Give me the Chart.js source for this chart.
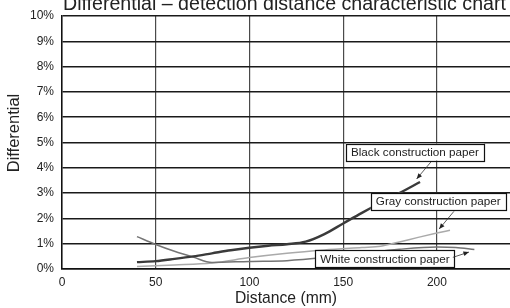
<!DOCTYPE html>
<html>
<head>
<meta charset="utf-8">
<script src="https://cdn.jsdelivr.net/npm/chart.js@4.4.1/dist/chart.umd.min.js"></script>
<style>
  html, body { margin: 0; padding: 0; background: #fff; }
  #wrap { position: relative; width: 510px; height: 308px; }
</style>
</head>
<body>
<div id="wrap"><canvas id="chart"></canvas></div>
<script>
// ====== DATA ======
const titleText = "Differential \u2013 detection distance characteristic chart";
const yTitle = "Differential";
const xTicks = [0, 50, 100, 150, 200];

// Black construction paper
const distBlack = [40, 50, 60, 70, 80, 90, 100, 110, 120, 130, 140, 150, 160, 170, 180, 191];
const diffBlack = [0.27, 0.31, 0.4, 0.5, 0.62, 0.74, 0.84, 0.92, 0.98, 1.08, 1.38, 1.8, 2.22, 2.62, 3.0, 3.44];

// Gray construction paper
const distGray = [40, 60, 80, 100, 120, 140, 160, 170, 180, 190, 200, 207];
const diffGray = [0.1, 0.16, 0.24, 0.45, 0.62, 0.75, 0.85, 0.9, 1.07, 1.25, 1.42, 1.53];

// White construction paper
const distWhite = [40, 50, 60, 70, 80, 100, 120, 140, 160, 180, 200, 210, 220];
const diffWhite = [1.28, 0.97, 0.7, 0.47, 0.26, 0.3, 0.33, 0.45, 0.62, 0.78, 0.87, 0.85, 0.77];

// Callout labels (box centre + arrow, in data units)
const callouts = [
  { text: "Black construction paper", x: 188.3, y: 4.62, from: [196.8, 4.23], to: [189.2, 3.56] },
  { text: "Gray construction paper", x: 200.7, y: 2.67, from: [209.1, 2.28], to: [201.2, 1.58] },
  { text: "White construction paper", x: 172.3, y: 0.40, from: [208.5, 0.46], to: [217.1, 0.67] }
];

const FONT = "'Liberation Sans', Arial, sans-serif";

function pts(xs, ys) {
  return xs.map((x, i) => ({ x: x, y: ys[i] }));
}

// white background, top title (clipped at top edge like the original), y axis title
const backdrop = {
  id: 'backdrop',
  beforeDraw(chart) {
    const ctx = chart.ctx;
    ctx.save();
    ctx.fillStyle = '#fff';
    ctx.fillRect(0, 0, chart.width, chart.height);
    ctx.restore();
  },
  afterDraw(chart) {
    const ctx = chart.ctx;
    ctx.save();
    ctx.fillStyle = '#222';
    ctx.font = '19.6px ' + FONT;
    ctx.textBaseline = 'alphabetic';
    ctx.textAlign = 'left';
    ctx.fillText(titleText, 63, 9.5);

    ctx.translate(14.5, 133);
    ctx.rotate(-Math.PI / 2);
    ctx.font = '16.5px ' + FONT;
    ctx.textAlign = 'center';
    ctx.textBaseline = 'middle';
    ctx.fillText(yTitle, 0, 0);
    ctx.restore();
  }
};

// boxed labels with arrows
const calloutPlugin = {
  id: 'callouts',
  afterDatasetsDraw(chart) {
    const ctx = chart.ctx;
    const xs = chart.scales.x, ys = chart.scales.y;
    ctx.save();
    ctx.font = '11.7px ' + FONT;
    callouts.forEach(c => {
      const cx = xs.getPixelForValue(c.x);
      const cy = ys.getPixelForValue(c.y);
      const w = ctx.measureText(c.text).width + 10;
      const h = 17;
      ctx.fillStyle = '#fff';
      ctx.fillRect(cx - w / 2, cy - h / 2, w, h);
      ctx.strokeStyle = '#111';
      ctx.lineWidth = 1.2;
      ctx.strokeRect(Math.round(cx - w / 2) + 0.5, Math.round(cy - h / 2) + 0.5, Math.round(w), h);
      ctx.fillStyle = '#222';
      ctx.textAlign = 'center';
      ctx.textBaseline = 'middle';
      ctx.fillText(c.text, cx, cy + 0.5);

      // arrow
      const x1 = xs.getPixelForValue(c.from[0]), y1 = ys.getPixelForValue(c.from[1]);
      const x2 = xs.getPixelForValue(c.to[0]), y2 = ys.getPixelForValue(c.to[1]);
      ctx.strokeStyle = '#333';
      ctx.lineWidth = 0.8;
      ctx.beginPath();
      ctx.moveTo(x1, y1);
      ctx.lineTo(x2, y2);
      ctx.stroke();
      const a = Math.atan2(y2 - y1, x2 - x1);
      const L = 6, s = 0.4;
      ctx.fillStyle = '#222';
      ctx.beginPath();
      ctx.moveTo(x2, y2);
      ctx.lineTo(x2 - L * Math.cos(a - s), y2 - L * Math.sin(a - s));
      ctx.lineTo(x2 - L * Math.cos(a + s), y2 - L * Math.sin(a + s));
      ctx.closePath();
      ctx.fill();
    });
    ctx.restore();
  }
};

const ctx = document.getElementById('chart').getContext('2d');
new Chart(ctx, {
  type: 'line',
  data: {
    datasets: [
      {
        label: 'Black construction paper',
        data: pts(distBlack, diffBlack),
        borderColor: '#3a3a3a',
        borderWidth: 2.4
      },
      {
        label: 'White construction paper',
        data: pts(distWhite, diffWhite),
        borderColor: '#747474',
        borderWidth: 1.5
      },
      {
        label: 'Gray construction paper',
        data: pts(distGray, diffGray),
        borderColor: '#aaaaaa',
        borderWidth: 1.5
      }
    ]
  },
  options: {
    responsive: true,
    maintainAspectRatio: false,
    animation: false,
    events: [],
    layout: { padding: { top: 16, right: 0, left: 0, bottom: 0 } },
    elements: {
      point: { radius: 0 },
      line: { cubicInterpolationMode: 'monotone', fill: false }
    },
    plugins: {
      legend: { display: false },
      tooltip: { enabled: false },
      title: { display: false }
    },
    scales: {
      x: {
        type: 'linear',
        min: 0,
        max: 239,
        afterBuildTicks: (scale) => { scale.ticks = xTicks.map(v => ({ value: v })); },
        afterFit: (scale) => { scale.height = 39; },
        grid: { color: '#4a4a4a', lineWidth: 1.2, drawTicks: false },
        border: { color: '#111', width: 1.5 },
        ticks: {
          padding: 6,
          color: '#222',
          font: { family: FONT, size: 12 },
          maxRotation: 0
        },
        title: {
          display: true,
          text: 'Distance (mm)',
          color: '#222',
          font: { family: FONT, size: 15.7 },
          padding: { top: 0, bottom: 0 }
        }
      },
      y: {
        min: 0,
        max: 10,
        afterFit: (scale) => { scale.width = 62; },
        grid: { color: '#1a1a1a', lineWidth: 1.5, drawTicks: false },
        border: { color: '#111', width: 1.5 },
        ticks: {
          stepSize: 1,
          padding: 8,
          color: '#222',
          font: { family: FONT, size: 12 },
          callback: (v) => v + '%'
        },
        title: { display: false }
      }
    }
  },
  plugins: [backdrop, calloutPlugin]
});
</script>
</body>
</html>
